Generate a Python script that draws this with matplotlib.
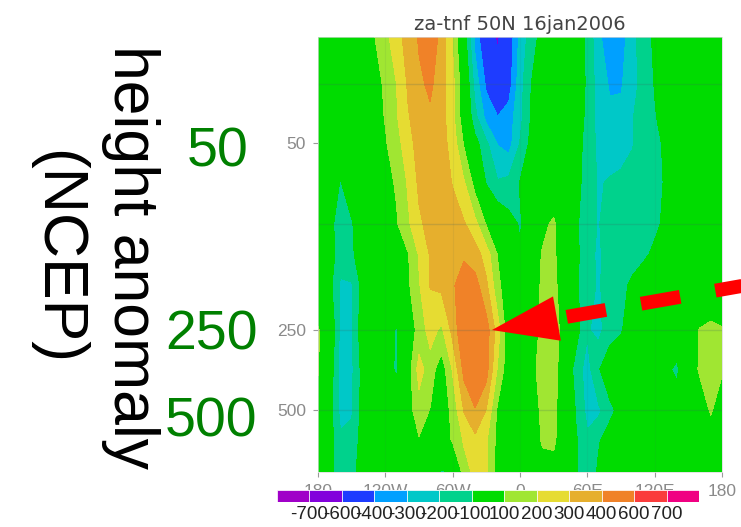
import numpy as np
import matplotlib
matplotlib.use('Agg')
import matplotlib.pyplot as plt
from matplotlib.lines import Line2D
from matplotlib.patches import Polygon
from matplotlib.ticker import NullLocator
from matplotlib.transforms import IdentityTransform

plt.rcParams['font.family'] = 'Liberation Sans'

# zonal height anomaly at 50N, longitude x pressure
lons = np.arange(-180, 181, 10)
plevs = [20, 30, 40, 50, 70, 100, 130, 170, 250, 350, 500, 650, 850]
za = [
    # 20 hPa
    [0, 0, 0, 10, 30, 95, 170, 260, 340, 410, 460, 370, 190, -40, -330, -520, -620, -480, -270,
     -150, -60, -20, -10, -40, -120, -280, -360, -350, -230, -150, -80, -30, 0, 0, 0, 0, 0],
    # 30 hPa
    [0, 0, 0, 10, 20, 50, 120, 200, 310, 380, 420, 340, 230, 20, -240, -420, -520, -450, -240,
     -100, -40, -10, 0, -20, -120, -250, -310, -310, -240, -160, -95, -50, -10, 0, 0, 0, 0],
    # 40 hPa
    [0, 0, 0, 10, 20, 60, 105, 190, 290, 350, 380, 340, 230, 30, -170, -330, -395, -350, -230,
     -90, -40, -10, 0, -30, -130, -240, -280, -270, -205, -160, -110, -50, -10, 0, 0, 0, 0],
    # 50 hPa
    [0, 0, 0, 10, 20, 50, 90, 160, 260, 340, 370, 340, 260, 90, -60, -180, -305, -340, -195,
     -70, -30, -10, 0, -40, -150, -220, -250, -250, -205, -170, -130, -80, -20, 0, 0, 0, 0],
    # 70 hPa
    [0, -40, -105, -40, 10, 30, 70, 110, 210, 320, 360, 340, 295, 210, 60, -110, -190, -170, -95,
     -50, -20, 0, 0, -60, -150, -210, -190, -170, -170, -160, -130, -90, -30, 0, 0, 0, 0],
    # 100 hPa
    [0, -80, -130, -110, -20, 20, 40, 90, 180, 280, 340, 360, 340, 310, 230, 90, 20, -60, -110,
     -40, 70, 120, 0, -80, -170, -205, -160, -150, -140, -140, -120, -80, -20, 0, 0, 0, 0],
    # 130 hPa
    [0, -60, -140, -120, -30, 10, 30, 50, 90, 210, 310, 350, 370, 390, 350, 250, 95, -20, -90,
     20, 110, 120, 20, -70, -180, -210, -170, -150, -140, -120, -80, -20, 0, 0, 0, 0, 0],
    # 170 hPa
    [0, -60, -220, -210, -60, 0, 20, 40, 80, 190, 305, 320, 390, 440, 440, 320, 130, 20, -20,
     30, 120, 130, 30, -80, -170, -210, -160, -130, -80, -30, -10, 0, 0, 0, 0, 0, 0],
    # 250 hPa
    [110, 20, -230, -210, -30, 0, -40, -110, 20, 140, 240, 180, 330, 500, 560, 450, 250, 20, -20,
     40, 130, 140, 60, -60, -190, -230, -140, -110, -40, 0, 0, -20, -30, 20, 105, 130, 110],
    # 350 hPa
    [110, -30, -230, -220, -60, -10, -40, -120, 40, 240, 150, 40, 210, 430, 520, 440, 190, 30, 0,
     70, 140, 150, 10, -150, -240, -110, -30, 0, 0, 0, -30, -80, -120, 40, 110, 130, 110],
    # 500 hPa
    [40, -50, -230, -210, -60, 0, 10, 20, 60, 150, 95, 30, 130, 305, 390, 295, 80, 20, 0,
     50, 120, 130, 20, -110, -230, -220, -130, -60, -10, 0, 0, -30, -40, 0, 40, 110, 40],
    # 650 hPa
    [20, -50, -180, -170, -50, 0, 20, 30, 60, 90, 80, 40, 110, 210, 270, 210, 70, 20, 0,
     40, 110, 120, 20, -90, -180, -110, -40, -10, 0, 0, 0, -20, -10, 0, 20, 40, 20],
    # 850 hPa
    [0, -60, -160, -140, -40, 0, 10, 10, 0, 0, -40, -110, -90, 150, 230, 210, 50, 0, 0,
     20, 60, 50, 0, -90, -190, -80, -20, 0, 0, 0, 0, 0, 0, 0, 0, 0, 0],
]

clevs = [-700, -600, -400, -300, -200, -100, 100, 200, 300, 400, 600, 700]
# grads default rainbow
ccols = ['#a000c8', '#8200dc', '#1e3cff', '#00a0ff', '#00c8c8', '#00d28c', '#00dc00',
         '#a0e632', '#e6dc32', '#e6af2d', '#f08228', '#fa3c3c', '#f00082']

xticks = [-180, -120, -60, 0, 60, 120, 180]
xlabels = ['180', '120W', '60W', '0', '60E', '120E', '180']
yticks = [50, 250, 500]
ygrid = [30, 100, 250, 500]
marked = [50, 250, 500]

W, H = 741, 527
fig = plt.figure(figsize=(W / 100, H / 100), dpi=100)
ax = fig.add_axes([318 / W, 1 - 472 / H, 404 / W, 435 / H])

big = 1e4
ax.contourf(lons, plevs, za, levels=[-big] + clevs + [big], colors=ccols)
ax.set_yscale('log')
ax.set_xlim(-180, 180)
ax.set_ylim(850, 20)

for p in ygrid:
    ax.axhline(p, color='#406060', lw=1.0, alpha=0.2)
for x in xticks[1:-1]:
    ax.axvline(x, color='#406060', lw=0.8, alpha=0.08)

ax.set_xticks(xticks, xlabels)
ax.set_yticks(yticks, [str(v) for v in yticks])
ax.yaxis.set_minor_locator(NullLocator())
ax.tick_params(direction='out', length=3.6, width=0.8, color='#9a9a9a',
               labelcolor='#8a8a8a', labelsize=12.5)
ax.tick_params(axis='x', pad=5)
ax.tick_params(axis='y', pad=5)
for s in ax.spines.values():
    s.set_color('#d8d8d8')
    s.set_linewidth(0.5)
ax.set_title('za-tnf 50N 16jan2006', fontsize=14, color='#444444',
             family='DejaVu Sans', pad=5)

# colour key, drawn on top of the longitude labels
cax = fig.add_axes([277 / W, 1 - 502 / H, 422 / W, 12 / H])
cax.bar(np.arange(len(ccols)), 1, width=1, align='edge', color=ccols,
        edgecolor='white', linewidth=0.5)
cax.set_xlim(0, len(ccols))
cax.set_ylim(0, 1)
cax.set_yticks([])
cax.set_xticks(np.arange(1, len(clevs) + 1), [str(v) for v in clevs])
cax.tick_params(length=0, labelsize=13.5, pad=3, labelcolor='#222222')
for s in cax.spines.values():
    s.set_visible(False)

# annotations
fig.text(130 / W, 1 - 257 / H, 'height anomaly', rotation=-90, ha='center', va='center',
         fontsize=45, color='black')
fig.text(57 / W, 1 - 257 / H, '(NCEP)', rotation=-90, ha='center', va='center',
         fontsize=45, color='black')
for p, dx, dy in zip(marked, [-70, -60, -61], [-23, -19, -26]):
    ax.annotate(str(p), xy=(0, p), xycoords=('axes fraction', 'data'),
                xytext=(dx, dy), textcoords='offset pixels', ha='right', va='baseline',
                fontsize=40, color='#008000', annotation_clip=False)

# red dashed arrow pointing at the 250 hPa maximum
tip = ax.transData.transform((-25, 250))
ang = np.deg2rad(10)
d = np.array([np.cos(ang), np.sin(ang)])
n = np.array([-np.sin(ang), np.cos(ang)])
base = tip + 66 * d
head = Polygon([tip, base + 22.5 * n, base - 22.5 * n], closed=True,
               transform=IdentityTransform(), facecolor='red', edgecolor='none')
fig.add_artist(head)
tail = base + 320 * d
fig.add_artist(Line2D([base[0], tail[0]], [base[1], tail[1]], lw=10, color='red',
                      linestyle=(4.71, (2.86, 2.57)), dash_capstyle='butt',
                      transform=IdentityTransform()))

fig.savefig('out.png', dpi=100)
